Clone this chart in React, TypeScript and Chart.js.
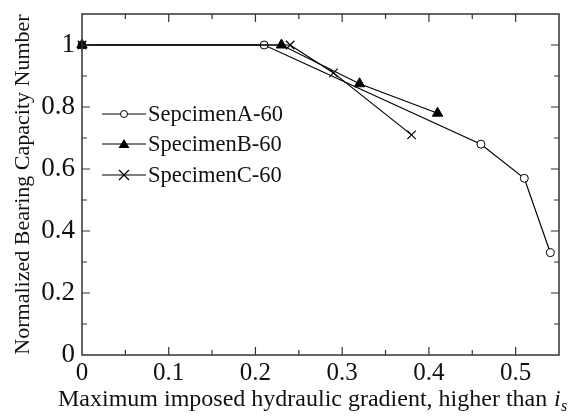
import React, { useEffect, useRef } from "react";
import { Chart, registerables } from "chart.js";

Chart.register(...registerables);

const seriesNames = ["SepcimenA-60", "SpecimenB-60", "SpecimenC-60"];
const aX = [0, 0.21, 0.46, 0.51, 0.54];
const aY = [1, 1, 0.68, 0.57, 0.33];
const bX = [0, 0.23, 0.32, 0.41];
const bY = [1, 1, 0.875, 0.78];
const cX = [0, 0.24, 0.29, 0.38];
const cY = [1, 1, 0.91, 0.71];
const xTickValues = [0, 0.1, 0.2, 0.3, 0.4, 0.5];
const yTickValues = [0, 0.2, 0.4, 0.6, 0.8, 1];
const xTitle = "Maximum imposed hydraulic gradient, higher than";
const yTitle = "Normalized Bearing Capacity Number";

const FONT = '"Liberation Serif", "Times New Roman", serif';
const INK = "#111";

const toPts = (xs: number[], ys: number[]) => xs.map((x, i) => ({ x, y: ys[i] }));

const decoPlugin = {
  id: "deco",
  afterDraw(chart: any) {
    const { ctx, chartArea } = chart;
    const { left, right, top, bottom } = chartArea;
    const xs = chart.scales.x;
    const ys = chart.scales.y;
    ctx.save();
    // frame
    ctx.strokeStyle = "#333";
    ctx.lineWidth = 1.5;
    ctx.strokeRect(left, top, right - left, bottom - top);
    // ticks
    ctx.lineWidth = 1.2;
    ctx.beginPath();
    for (let k = 1; k <= 10; k++) {
      const v = k * 0.05;
      const px = xs.getPixelForValue(v);
      const len = k % 2 === 0 ? 8 : 5;
      ctx.moveTo(px, bottom);
      ctx.lineTo(px, bottom - len);
      ctx.moveTo(px, top);
      ctx.lineTo(px, top + len);
    }
    for (let k = 1; k <= 10; k++) {
      const v = k * 0.1;
      const py = ys.getPixelForValue(v);
      const len = k % 2 === 0 ? 8 : 5;
      ctx.moveTo(left, py);
      ctx.lineTo(left + len, py);
      ctx.moveTo(right, py);
      ctx.lineTo(right - len, py);
    }
    ctx.stroke();

    // legend
    const rows = [114, 144, 175];
    const lx0 = 102;
    const lx1 = 146;
    const mx = (lx0 + lx1) / 2;
    ctx.strokeStyle = "#000";
    rows.forEach((y, i) => {
      ctx.lineWidth = 1.2;
      ctx.beginPath();
      ctx.moveTo(lx0, y);
      ctx.lineTo(lx1, y);
      ctx.stroke();
      if (i === 0) {
        ctx.beginPath();
        ctx.arc(mx, y, 3.5, 0, Math.PI * 2);
        ctx.fillStyle = "#fff";
        ctx.fill();
        ctx.lineWidth = 1;
        ctx.stroke();
      } else if (i === 1) {
        ctx.beginPath();
        ctx.moveTo(mx, y - 5);
        ctx.lineTo(mx + 5.5, y + 4);
        ctx.lineTo(mx - 5.5, y + 4);
        ctx.closePath();
        ctx.fillStyle = "#000";
        ctx.fill();
      } else {
        ctx.beginPath();
        ctx.moveTo(mx - 5, y - 5);
        ctx.lineTo(mx + 5, y + 5);
        ctx.moveTo(mx + 5, y - 5);
        ctx.lineTo(mx - 5, y + 5);
        ctx.stroke();
      }
      ctx.fillStyle = INK;
      ctx.font = `22.5px ${FONT}`;
      ctx.textAlign = "left";
      ctx.textBaseline = "middle";
      ctx.fillText(seriesNames[i], 148, y + 1);
    });

    // x title
    ctx.fillStyle = INK;
    ctx.textBaseline = "alphabetic";
    ctx.textAlign = "left";
    ctx.font = `24px ${FONT}`;
    ctx.fillText(xTitle, 58, 406);
    ctx.font = `italic 24px ${FONT}`;
    ctx.fillText("i", 554, 406);
    ctx.font = `italic 16px ${FONT}`;
    ctx.fillText("s", 561, 411);

    // y title
    ctx.translate(23, (top + bottom) / 2);
    ctx.rotate(-Math.PI / 2);
    ctx.textAlign = "center";
    ctx.textBaseline = "middle";
    ctx.font = `22px ${FONT}`;
    ctx.fillText(yTitle, 0, 0);
    ctx.restore();
  },
};

const fmt = (v: number) => (v === 0 ? "0" : v === 1 ? "1" : v.toFixed(1));

export default function App() {
  const ref = useRef<HTMLCanvasElement | null>(null);
  useEffect(() => {
    if (!ref.current) return;
    const common = {
      borderColor: "#000",
      borderWidth: 1.2,
      showLine: true,
      fill: false,
      clip: false as any,
      pointBorderColor: "#000",
    };
    const chart = new Chart(ref.current, {
      type: "scatter",
      data: {
        datasets: [
          {
            ...common,
            label: seriesNames[0],
            data: toPts(aX, aY),
            order: 3,
            pointStyle: "circle",
            pointRadius: 4,
            pointBackgroundColor: "#fff",
            pointBorderWidth: 1,
          },
          {
            ...common,
            label: seriesNames[1],
            data: toPts(bX, bY),
            order: 1,
            pointStyle: "triangle",
            pointRadius: 6,
            pointBackgroundColor: "#000",
            pointBorderWidth: 1,
          },
          {
            ...common,
            label: seriesNames[2],
            data: toPts(cX, cY),
            order: 2,
            pointStyle: "crossRot",
            pointRadius: 6,
            pointBorderWidth: 1.2,
          },
        ],
      },
      options: {
        animation: false,
        responsive: false,
        layout: { padding: { top: 14, right: 19, left: 0, bottom: 0 } },
        plugins: { legend: { display: false }, tooltip: { enabled: false } },
        scales: {
          x: {
            type: "linear",
            min: 0,
            max: 0.55,
            grid: { display: false, drawTicks: false },
            border: { display: false },
            afterBuildTicks: (s: any) => {
              s.ticks = xTickValues.map((v) => ({ value: v }));
            },
            afterFit: (s: any) => {
              s.height = 64;
              s.paddingLeft = 0;
              s.paddingRight = 0;
            },
            ticks: {
              callback: (v: any) => fmt(Number(v)),
              font: { family: FONT, size: 25 },
              color: INK,
              padding: 3,
              maxRotation: 0,
              autoSkip: false,
            },
          },
          y: {
            type: "linear",
            min: 0,
            max: 1.1,
            grid: { display: false, drawTicks: false },
            border: { display: false },
            afterBuildTicks: (s: any) => {
              s.ticks = yTickValues.map((v) => ({ value: v }));
            },
            afterFit: (s: any) => {
              s.width = 82;
              s.paddingTop = 0;
              s.paddingBottom = 0;
            },
            ticks: {
              callback: (v: any) => fmt(Number(v)),
              font: { family: FONT, size: 27 },
              color: INK,
              padding: 7,
              autoSkip: false,
            },
          },
        },
      },
      plugins: [decoPlugin],
    } as any);
    return () => chart.destroy();
  }, []);
  return (
    <div style={{ position: "absolute", left: 0, top: 0, width: 578, height: 419, background: "#fff" }}>
      <canvas ref={ref} width={578} height={419} style={{ width: 578, height: 419 }} />
    </div>
  );
}
